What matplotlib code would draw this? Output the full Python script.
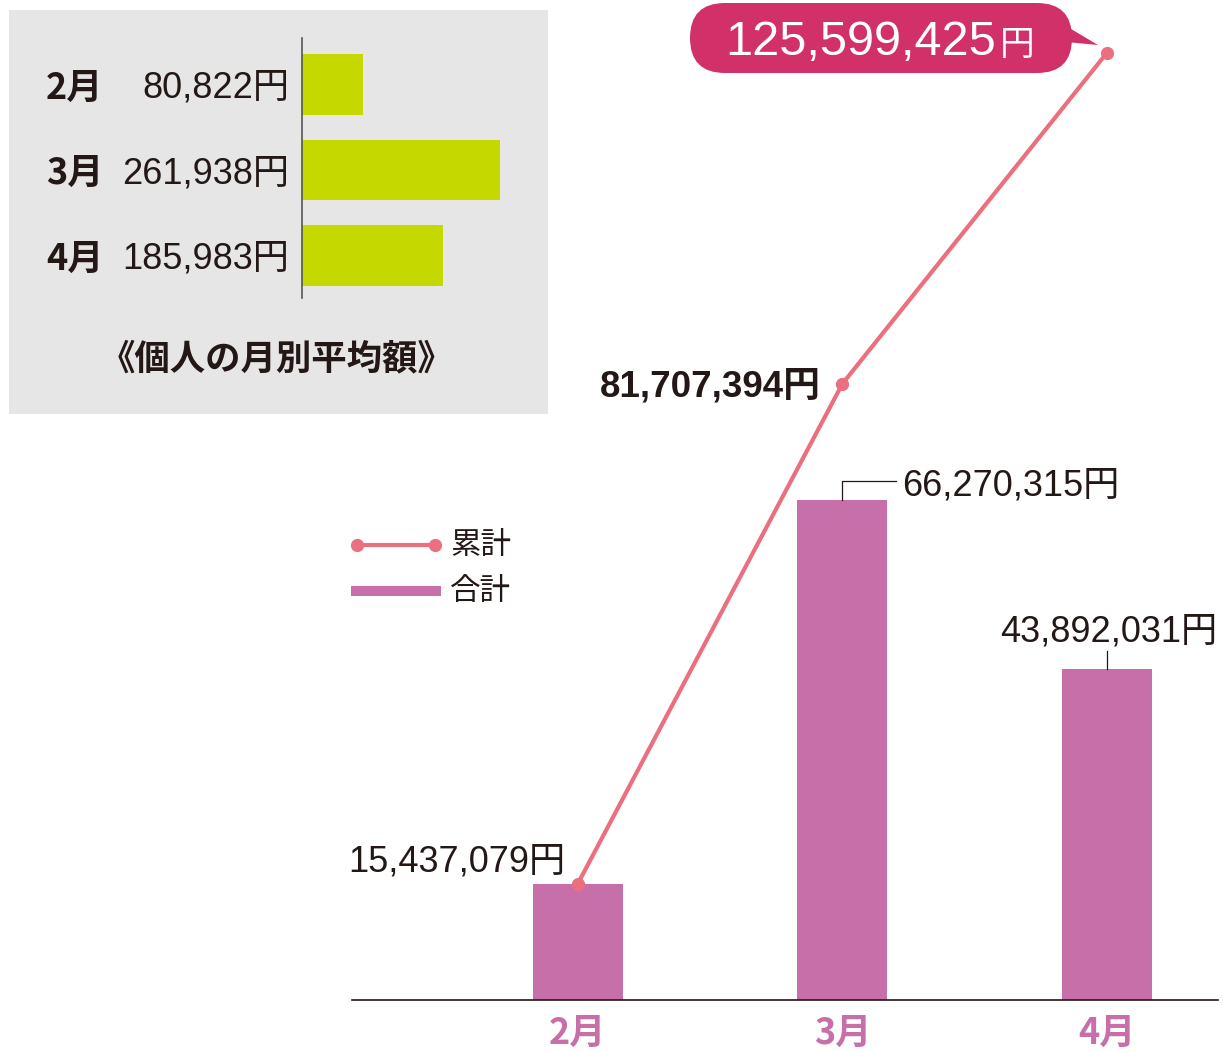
import matplotlib
matplotlib.use('Agg')
import matplotlib.pyplot as plt
from matplotlib.patches import FancyBboxPatch, Rectangle, Polygon
from matplotlib.lines import Line2D
import numpy as np

plt.rcParams['font.family'] = ['Liberation Sans', 'Noto Sans CJK JP', 'DejaVu Sans']

# data
months = ['2月', '3月', '4月']
totals = [15437079, 66270315, 43892031]        # 合計
cumulative = [15437079, 81707394, 125599425]   # 累計
avg_months = ['2月', '3月', '4月']
avg_values = [80822, 261938, 185983]           # 個人の月別平均額

INK = '#231815'
BAR = '#c66fa8'
LINE = '#ec6f7f'
LIME = '#c5d800'
PANEL = '#e6e6e6'
BUBBLE = '#d13068'
NUM = ['Liberation Sans', 'Noto Sans CJK JP']
JP = ['Noto Sans CJK JP', 'Liberation Sans']

W, H = 1227, 1052
fig = plt.figure(figsize=(W / 100, H / 100), dpi=100)

# background overlay in pixel coordinates (panel, legend, bubble)
bg = fig.add_axes([0, 0, 1, 1], zorder=0)
bg.set_xlim(0, W)
bg.set_ylim(H, 0)
bg.axis('off')
bg.add_patch(Rectangle((9, 10), 539, 404, color=PANEL, lw=0))

# main chart
ax = fig.add_axes([352 / W, (H - 1000) / H, (1218 - 352) / W, 1000 / H], zorder=1)
ax.patch.set_alpha(0)
x = np.arange(len(months))
px = 132600.0  # yen per pixel
ax.set_ylim(0, 1000 * px)
ax.set_xlim(-0.854, 2.42)
ax.bar(x, totals, width=0.34, color=BAR, zorder=2)
ax.plot(x, cumulative, color=LINE, lw=3, marker='o', ms=8.5, zorder=3,
        solid_capstyle='round')
for s in ['top', 'right', 'left']:
    ax.spines[s].set_visible(False)
ax.spines['bottom'].set_color(INK)
ax.spines['bottom'].set_linewidth(1.2)
ax.set_yticks([])
ax.set_xticks(x)
ax.set_xticklabels(months, color=BAR, fontsize=26, fontweight='bold', family=JP)
ax.tick_params(axis='x', length=0, pad=11)

dx = 1 / 264.5  # data units per pixel on x

def yen(v):
    return f'{v:,}円'

# value labels
ax.text(x[0] - 13 * dx, totals[0] + 12 * px, yen(totals[0]), ha='right', va='baseline',
        fontsize=26, color=INK, family=NUM)
ax.text(x[1] - 22 * dx, cumulative[1] - 13 * px, yen(cumulative[1]), ha='right', va='baseline',
        fontsize=26.5, fontweight='bold', color=INK, family=NUM)
ax.plot([x[1], x[1], x[1] + 54 * dx], [totals[1], totals[1] + 19 * px, totals[1] + 19 * px],
        color=INK, lw=0.9, zorder=2)
ax.text(x[1] + 60 * dx, totals[1] + 5 * px, yen(totals[1]), ha='left', va='baseline',
        fontsize=26, color=INK, family=NUM)
ax.plot([x[2], x[2]], [totals[2], totals[2] + 18 * px], color=INK, lw=0.9, zorder=2)
ax.text(x[2] + 110 * dx, totals[2] + 27 * px, yen(totals[2]), ha='right', va='baseline',
        fontsize=26, color=INK, family=NUM)

# bubble for the final cumulative value
bg.add_patch(FancyBboxPatch((690, 3), 382, 70, boxstyle='round,pad=0,rounding_size=35',
                            fc=BUBBLE, ec='none'))
bg.add_patch(Polygon([(1066, 26), (1098, 45), (1066, 42)], closed=True, fc=BUBBLE, ec='none'))
bg.text(996, 55, f'{cumulative[2]:,}', ha='right', va='baseline', fontsize=35,
        color='white', family=NUM)
bg.text(1000, 55, '円', ha='left', va='baseline', fontsize=25, color='white', family=JP)

# legend
bg.add_line(Line2D([357, 435], [545, 545], color=LINE, lw=3, marker='o', ms=8.5))
bg.text(450, 545, '累計', ha='left', va='center', fontsize=22, color=INK, family=JP)
bg.add_patch(Rectangle((351, 586), 90, 10, color=BAR, lw=0))
bg.text(450, 592, '合計', ha='left', va='center', fontsize=22, color=INK, family=JP)

# inset: average per person
ix = fig.add_axes([302 / W, (H - 298) / H, (548 - 302) / W, 260 / H], zorder=2)
ix.patch.set_alpha(0)
ypos = np.arange(len(avg_months))
ix.barh(ypos, avg_values, height=0.713, color=LIME, zorder=2)
ix.set_xlim(0, 246 / 7.56e-4)
ix.set_ylim(2.497, -0.544)
for s in ['top', 'right', 'bottom']:
    ix.spines[s].set_visible(False)
ix.spines['left'].set_color('#555555')
ix.spines['left'].set_linewidth(1.2)
ix.set_xticks([])
ix.set_yticks([])
for yi, m, v in zip(ypos, avg_months, avg_values):
    ycen = 88 + 85.5 * yi
    bg.text(46, ycen, m, ha='left', va='center', fontsize=26,
            fontweight='bold', color=INK, family=JP)
    bg.text(289, ycen, yen(v), ha='right', va='center', fontsize=26,
            color=INK, family=NUM)
bg.text(277, 359, '《個人の月別平均額》', ha='center', va='center', fontsize=25.5,
        fontweight='bold', color=INK, family=JP)

fig.savefig('out.png', dpi=100, facecolor='white')
